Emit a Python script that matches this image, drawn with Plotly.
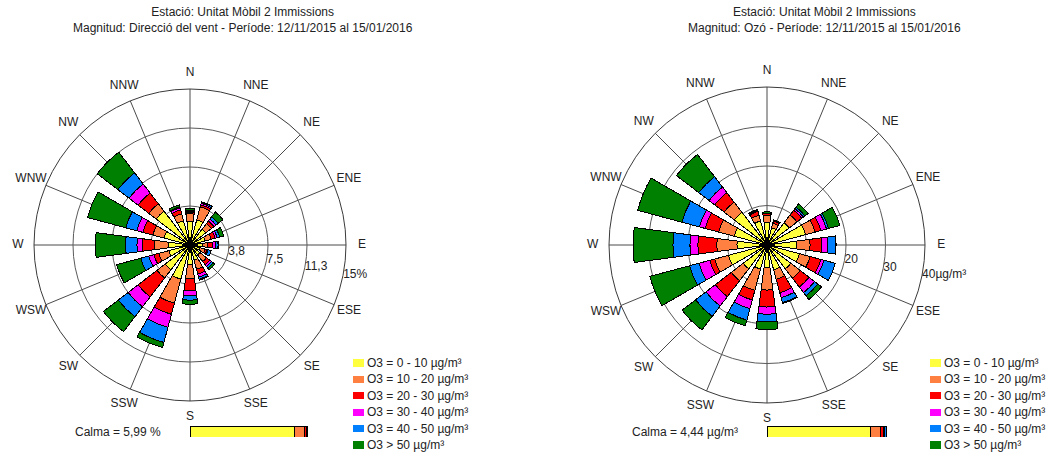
import plotly.graph_objects as go

FONT = "Liberation Sans, Arial, sans-serif"
FS = 12

DIRECTIONS = ["N", "NNE", "NE", "ENE", "E", "ESE", "SE", "SSE",
              "S", "SSW", "SW", "WSW", "W", "WNW", "NW", "NNW"]
COMPASS_DEG = [0, 22.5, 45, 67.5, 90, 112.5, 135, 157.5,
               180, 202.5, 225, 247.5, 270, 292.5, 315, 337.5]

CLASSES = ["O3 = 0 - 10 µg/m³", "O3 = 10 - 20 µg/m³", "O3 = 20 - 30 µg/m³",
           "O3 = 30 - 40 µg/m³", "O3 = 40 - 50 µg/m³", "O3 > 50 µg/m³"]
COLORS = ["#FFFF40", "#FF8040", "#FF0000", "#FF00FF", "#0080FF", "#008000"]

# ---- Left rose: wind direction frequency (%) per O3 class ----
FREQ_0_10 = [2.3, 2.5, 1.9, 1.5, 1.2, 1.0, 1.2, 1.5, 1.9, 3.4, 3.0, 2.1, 2.1, 2.6, 4.1, 2.4]
FREQ_10_20 = [0.7, 1.3, 0.7, 0.6, 0.5, 0.5, 0.8, 0.9, 1.3, 2.4, 1.0, 1.0, 1.3, 1.1, 0.9, 0.7]
FREQ_20_30 = [0.15, 0.2, 0.3, 0.4, 0.5, 0.2, 0.4, 0.5, 1.2, 1.1, 2.3, 0.5, 1.2, 1.0, 1.3, 0.4]
FREQ_30_40 = [0.1, 0.15, 0.25, 0.2, 0.3, 0.1, 0.2, 0.3, 0.5, 1.3, 1.2, 0.5, 0.5, 0.6, 1.1, 0.2]
FREQ_40_50 = [0.1, 0.1, 0.25, 0.25, 0.2, 0.3, 0.2, 0.2, 0.4, 1.5, 1.2, 0.8, 1.1, 1.1, 1.35, 0.1]
FREQ_GT_50 = [0.15, 0.05, 0.6, 0.4, 0.05, 0.0, 0.2, 0.1, 0.4, 0.5, 1.8, 2.4, 2.9, 3.8, 2.5, 0.2]

# ---- Right rose: O3 concentration (µg/m³) per class ----
CONC_0_10 = [5.6, 4.5, 7.1, 10.1, 7.5, 8.5, 7.6, 6.5, 5.8, 6.3, 7.6, 10.1, 7.6, 8.6, 10.4, 6.3]
CONC_10_20 = [1.8, 1.2, 2.5, 2.5, 3.4, 2.8, 3.0, 2.5, 5.6, 5.6, 3.8, 3.6, 5.1, 4.1, 3.3, 1.5]
CONC_20_30 = [0.5, 0.6, 1.5, 1.5, 3.0, 2.8, 2.8, 3.5, 4.3, 2.5, 5.1, 1.3, 4.8, 3.5, 3.0, 1.0]
CONC_30_40 = [0.1, 0.1, 0.5, 1.5, 1.5, 0.8, 1.8, 1.3, 1.8, 2.3, 3.0, 2.8, 2.0, 1.5, 1.8, 0.2]
CONC_40_50 = [0.1, 0.1, 0.5, 0.5, 2.0, 3.0, 1.0, 1.3, 1.9, 3.0, 3.3, 2.5, 4.3, 4.6, 3.3, 0.1]
CONC_GT_50 = [0.3, 0.1, 1.0, 3.0, 0.1, 0.0, 1.2, 0.2, 2.0, 1.5, 4.3, 10.4, 10.1, 11.6, 7.1, 0.2]

# ---- Calm distribution (share of calm per class, %) ----
CALM_LEFT = [88.3, 9.1, 1.6, 0.4, 0.3, 0.3]
CALM_RIGHT = [86.0, 8.5, 2.5, 1.2, 1.0, 0.8]

LEFT_RMAX = 15
RIGHT_RMAX = 40
LEFT_RING_VALUES = [3.75, 7.5, 11.25, 15]
LEFT_RING_TEXT = ["3,8", "7,5", "11,3", "15%"]
RIGHT_RING_VALUES = [10, 20, 30, 40]
RIGHT_LABEL_VALUES = [20, 30, 40]
RIGHT_LABEL_TEXT = ["20", "30", "40µg/m³"]

TITLE_LEFT = "Estació: Unitat Mòbil 2 Immissions<br>Magnitud: Direcció del vent - Període: 12/11/2015 al 15/01/2016"
TITLE_RIGHT = "Estació: Unitat Mòbil 2 Immissions<br>Magnitud: Ozó - Període: 12/11/2015 al 15/01/2016"
CALM_LEFT_TEXT = "Calma = 5,99 %"
CALM_RIGHT_TEXT = "Calma = 4,44 µg/m³"

LEFT_SERIES = [FREQ_0_10, FREQ_10_20, FREQ_20_30, FREQ_30_40, FREQ_40_50, FREQ_GT_50]
RIGHT_SERIES = [CONC_0_10, CONC_10_20, CONC_20_30, CONC_30_40, CONC_40_50, CONC_GT_50]

W, H = 1056, 457
TXT = dict(size=FS, color="#222", family=FONT)
LABEL_OUT = 1.103   # compass labels sit just outside the outer ring
OVER = 1.15         # overlay polar (labels only) is this much larger

LEFT_C, LEFT_R = (190, 245), 156
RIGHT_C, RIGHT_R = (767, 245), 158


def px_x(a, b):
    return [a / W, b / W]


def px_y(top, bottom):
    return [1 - bottom / H, 1 - top / H]


def dom(c, r):
    return dict(x=px_x(c[0] - r, c[0] + r), y=px_y(c[1] - r, c[1] + r))


fig = go.Figure()

for name, col, vals in zip(CLASSES, COLORS, LEFT_SERIES):
    fig.add_trace(go.Barpolar(r=vals, theta=COMPASS_DEG, width=15, name=name,
                              marker=dict(color=col, line=dict(color="black", width=1)),
                              subplot="polar", showlegend=False))
for name, col, vals in zip(CLASSES, COLORS, RIGHT_SERIES):
    fig.add_trace(go.Barpolar(r=vals, theta=COMPASS_DEG, width=15, name=name,
                              marker=dict(color=col, line=dict(color="black", width=1)),
                              subplot="polar2", showlegend=False))

# ring value labels
fig.add_trace(go.Scatterpolar(r=LEFT_RING_VALUES, theta=[101] * len(LEFT_RING_VALUES),
                              mode="text", text=LEFT_RING_TEXT, textposition="middle right",
                              textfont=TXT, cliponaxis=False, subplot="polar",
                              showlegend=False, hoverinfo="skip"))
fig.add_trace(go.Scatterpolar(r=RIGHT_LABEL_VALUES, theta=[101] * len(RIGHT_LABEL_VALUES),
                              mode="text", text=RIGHT_LABEL_TEXT, textposition="middle right",
                              textfont=TXT, cliponaxis=False, subplot="polar2",
                              showlegend=False, hoverinfo="skip"))

# compass direction labels on label-only overlay polars (same centre, same scale)
for sub, rmax in [("polar3", LEFT_RMAX), ("polar4", RIGHT_RMAX)]:
    fig.add_trace(go.Scatterpolar(r=[rmax * LABEL_OUT] * len(DIRECTIONS), theta=COMPASS_DEG,
                                  mode="text", text=DIRECTIONS, textposition="middle center",
                                  textfont=TXT, cliponaxis=False, subplot=sub,
                                  showlegend=False, hoverinfo="skip"))

# legend-like keys
for xa, ya in [("x", "y"), ("x2", "y2")]:
    fig.add_trace(go.Bar(x=[1] * len(CLASSES), y=CLASSES, orientation="h", width=0.43,
                         marker=dict(color=COLORS, line=dict(width=0)),
                         text=CLASSES, textposition="outside", constraintext="none",
                         textfont=TXT, cliponaxis=False, xaxis=xa, yaxis=ya,
                         showlegend=False, hoverinfo="skip"))

# calm bars
for calm, (xa, ya) in [(CALM_LEFT, ("x3", "y3")), (CALM_RIGHT, ("x4", "y4"))]:
    for name, col, v in zip(CLASSES, COLORS, calm):
        fig.add_trace(go.Bar(x=[v], y=["Calma"], orientation="h", width=1, name=name,
                             marker=dict(color=col, line=dict(color="black", width=1)),
                             xaxis=xa, yaxis=ya, showlegend=False))


def polar_layout(domain, rmax, rings):
    return dict(
        domain=domain,
        bgcolor="white",
        angularaxis=dict(direction="clockwise", rotation=90, tickmode="array",
                         tickvals=COMPASS_DEG, ticktext=DIRECTIONS, showticklabels=False,
                         showgrid=True, gridcolor="#4a4a4a", gridwidth=1,
                         showline=True, linecolor="#3a3a3a", linewidth=1, ticks=""),
        radialaxis=dict(range=[0, rmax], tickmode="array", tickvals=rings,
                        showticklabels=False, ticks="", showline=False,
                        gridcolor="#5a5a5a", gridwidth=1),
    )


def overlay_layout(domain, rmax):
    return dict(
        domain=domain,
        bgcolor="rgba(0,0,0,0)",
        angularaxis=dict(direction="clockwise", rotation=90, showticklabels=False,
                         showgrid=False, showline=False, ticks=""),
        radialaxis=dict(range=[0, rmax], visible=False, showgrid=False),
    )


hidden = dict(visible=False, fixedrange=True)
legend_rows = len(CLASSES)
fig.update_layout(
    width=W, height=H,
    margin=dict(l=0, r=0, t=0, b=0),
    paper_bgcolor="white", plot_bgcolor="rgba(0,0,0,0)",
    font=TXT,
    barmode="stack",
    polar=polar_layout(dom(LEFT_C, LEFT_R), LEFT_RMAX, LEFT_RING_VALUES),
    polar2=polar_layout(dom(RIGHT_C, RIGHT_R), RIGHT_RMAX, RIGHT_RING_VALUES),
    polar3=overlay_layout(dom(LEFT_C, LEFT_R * OVER), LEFT_RMAX * OVER),
    polar4=overlay_layout(dom(RIGHT_C, RIGHT_R * OVER), RIGHT_RMAX * OVER),
    xaxis=dict(hidden, domain=px_x(353, 364), range=[0, 1]),
    yaxis=dict(hidden, domain=px_y(354.8, 453.2), type="category",
               categoryorder="array", categoryarray=CLASSES, range=[legend_rows - 0.5, -0.5]),
    xaxis2=dict(hidden, domain=px_x(930, 941), range=[0, 1]),
    yaxis2=dict(hidden, domain=px_y(354.8, 453.2), type="category",
                categoryorder="array", categoryarray=CLASSES, range=[legend_rows - 0.5, -0.5]),
    xaxis3=dict(hidden, domain=px_x(190, 308), range=[0, sum(CALM_LEFT)]),
    yaxis3=dict(hidden, domain=px_y(426, 437), range=[-0.5, 0.5]),
    xaxis4=dict(hidden, domain=px_x(767, 887), range=[0, sum(CALM_RIGHT)]),
    yaxis4=dict(hidden, domain=px_y(426, 437), range=[-0.5, 0.5]),
    showlegend=False,
    annotations=[
        dict(text=TITLE_LEFT, x=243 / W, y=1 - 20.5 / H, xref="paper", yref="paper",
             xanchor="center", yanchor="middle", showarrow=False, font=TXT),
        dict(text=TITLE_RIGHT, x=824 / W, y=1 - 20.5 / H, xref="paper", yref="paper",
             xanchor="center", yanchor="middle", showarrow=False, font=TXT),
        dict(text=CALM_LEFT_TEXT, x=0, y=0.5, xref="x3 domain", yref="y3 domain",
             xanchor="right", yanchor="middle", xshift=-27, showarrow=False, font=TXT),
        dict(text=CALM_RIGHT_TEXT, x=0, y=0.5, xref="x4 domain", yref="y4 domain",
             xanchor="right", yanchor="middle", xshift=-27, showarrow=False, font=TXT),
    ],
)

fig.write_html("out.html", config={"displayModeBar": False},
               post_script="document.body.style.margin='0';document.body.style.overflow='hidden';")
